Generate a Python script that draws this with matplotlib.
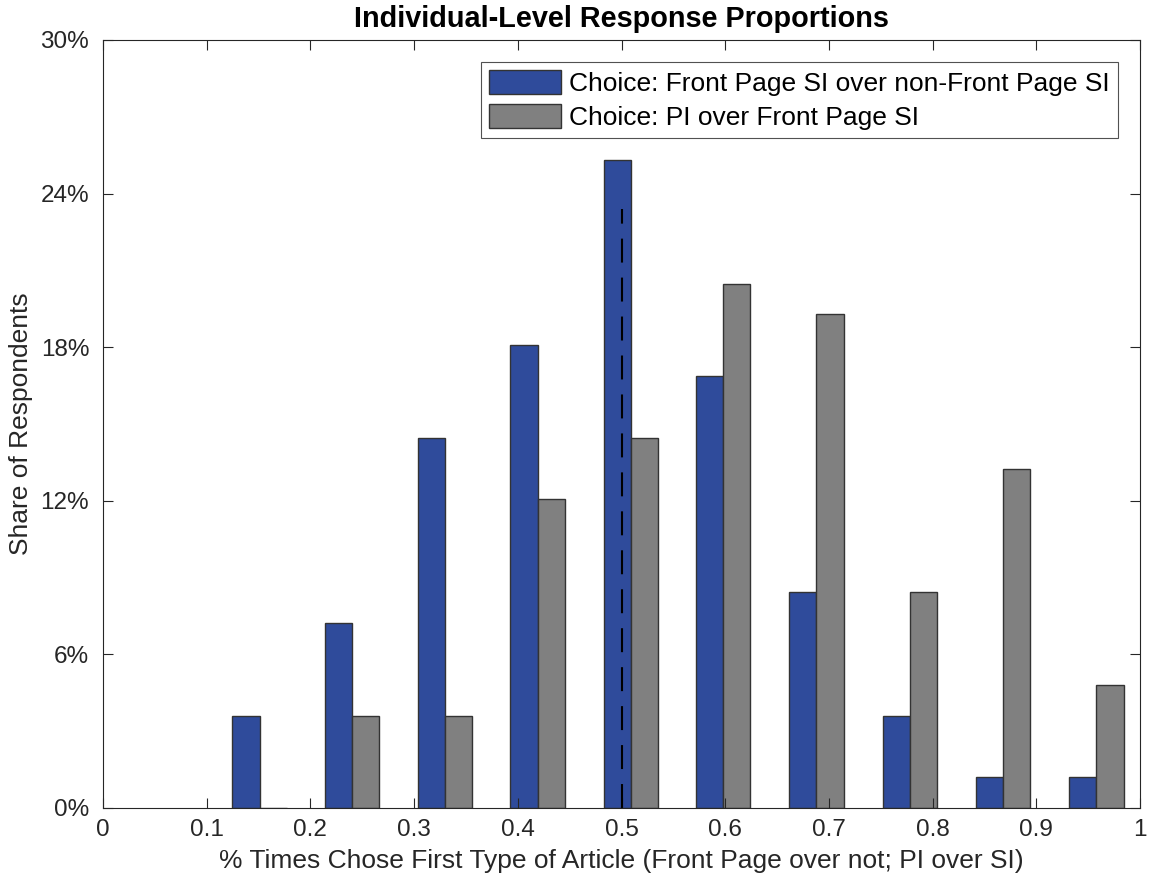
import matplotlib
matplotlib.use("Agg")
import matplotlib.pyplot as plt
from matplotlib.ticker import FuncFormatter

plt.rcParams['font.family'] = ['Liberation Sans', 'DejaVu Sans']

# bin centers and shares (percent of respondents)
centers = [0.151, 0.240, 0.330, 0.419, 0.509, 0.598, 0.688, 0.778, 0.868, 0.958]
front_page = [3.61, 7.23, 14.46, 18.07, 25.30, 16.87, 8.43, 3.61, 1.20, 1.20]
pi_over_si = [0.0, 3.61, 3.61, 12.05, 14.46, 20.48, 19.28, 8.43, 13.25, 4.82]
median_x = 0.5
median_top = 23.4

bw = 0.0262
fig = plt.figure(figsize=(11.5, 8.88), dpi=100)
ax = fig.add_axes([0.0896, 0.0901, 0.9017, 0.8649])

xb = [c - bw / 2 for c in centers]
xg = [c + bw / 2 for c in centers]
ax.bar(xb, front_page, width=bw, color='#2f4b9b', edgecolor='#333333', linewidth=1,
       label='Choice: Front Page SI over non-Front Page SI')
ax.bar(xg, pi_over_si, width=bw, color='#808080', edgecolor='#333333', linewidth=1,
       label='Choice: PI over Front Page SI')
ax.plot([median_x, median_x], [0, median_top], color='black', linestyle=(0, (11.5, 7.2)), linewidth=1.5)

ax.set_xlim(0, 1)
ax.set_ylim(0, 30)
ax.set_xticks([i / 10 for i in range(11)])
ax.set_xticklabels(['0', '0.1', '0.2', '0.3', '0.4', '0.5', '0.6', '0.7', '0.8', '0.9', '1'])
ax.set_yticks([0, 6, 12, 18, 24, 30])
ax.yaxis.set_major_formatter(FuncFormatter(lambda v, p: '%d%%' % v))
ax.tick_params(direction='in', top=True, right=True, labelsize=17.5, length=7, colors='#262626')
ax.tick_params(axis='y', pad=10)
ax.tick_params(axis='x', pad=8)
for s in ax.spines.values():
    s.set_color('#262626')
    s.set_linewidth(0.8)

ax.set_title('Individual-Level Response Proportions', fontsize=20.8, fontweight='bold', pad=9)
ax.set_xlabel('% Times Chose First Type of Article (Front Page over not; PI over SI)', fontsize=19, color='#262626', labelpad=6)
ax.set_ylabel('Share of Respondents', fontsize=19, color='#262626', labelpad=5)

leg = ax.legend(loc='upper right', fontsize=19, frameon=True, fancybox=False, edgecolor='#262626',
                handlelength=2.75, handleheight=1.0, handletextpad=0.3, borderpad=0.3,
                borderaxespad=0.85, labelspacing=0.3)
leg.get_frame().set_linewidth(0.8)

fig.savefig('out.png', dpi=100)
